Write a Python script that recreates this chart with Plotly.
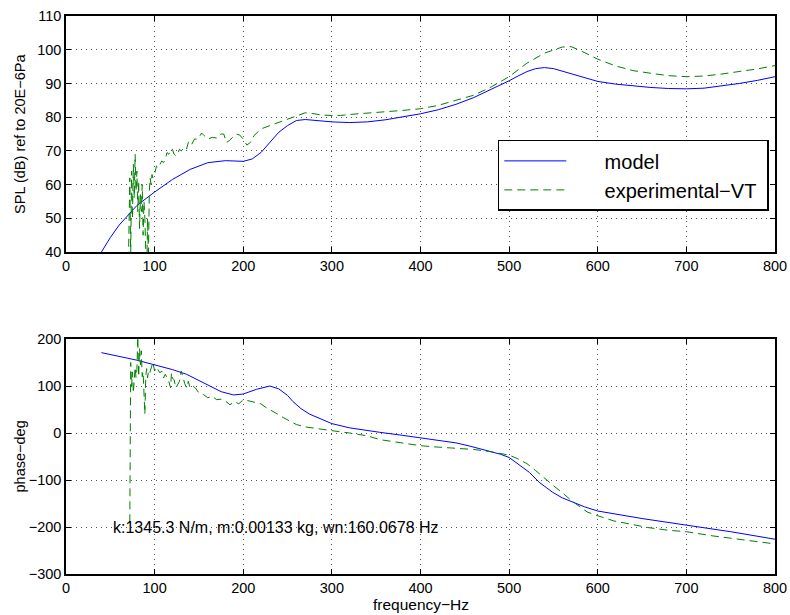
import plotly.graph_objects as go

# ---------------- data ----------------
# model SPL (top)
f_model_spl = [40, 50, 60, 70, 80, 90, 100, 120, 140, 160, 180, 200, 210, 220, 230, 240, 250, 260, 270, 280,
               300, 320, 340, 360, 380, 400, 420, 440, 460, 480, 500, 510, 520, 530, 540, 550, 560, 580, 600,
               620, 640, 660, 680, 700, 720, 740, 760, 780, 800]
spl_model = [40, 44.3, 48, 51, 53.8, 55.8, 57.8, 61.5, 64.5, 66.5, 67.1, 66.9, 67.6, 69.5, 72.5, 75.5, 77.5, 79, 79.3, 79,
             78.6, 78.4, 78.6, 79.2, 80, 81, 82.2, 83.8, 85.8, 88.2, 90.8, 92.2, 93.5, 94.4, 94.7, 94.4, 93.6, 92, 90.6,
             89.8, 89.2, 88.8, 88.5, 88.4, 88.6, 89.2, 90, 90.9, 92]

# experimental SPL (top)
f_exp_spl = [70, 72, 73, 74, 75, 76, 77, 78, 79, 80, 81, 82, 83, 84, 85, 86, 87, 88, 89, 90, 91, 92, 93, 94, 95, 96, 97, 98,
             100, 102, 104, 106, 108, 110, 112, 114, 116, 118, 120, 122, 124, 126, 128, 130, 132, 134, 136, 138, 140,
             142, 145, 148, 150, 153, 156, 160, 165, 170, 175, 178, 181, 184, 188, 192, 196, 200, 204, 208, 212, 216,
             220, 230, 240, 250, 260, 270, 280, 290, 300, 310, 320, 330, 340, 350, 360, 380, 400, 420, 440, 460, 480,
             500, 520, 540, 560, 570, 580, 600, 620, 640, 660, 680, 700, 720, 740, 760, 780, 800]
spl_exp = [30, 62, 38, 64, 50, 66, 56, 69, 58, 64, 52, 61, 47, 57, 52, 60, 45, 55, 50, 42, 30, 50, 38, 58, 62, 60, 63, 62,
           63, 65.5, 65, 66, 67, 66.5, 67.5, 69.5, 69, 70.5, 70.5, 69, 68.5, 69, 70.5, 70, 70.5, 71, 70.5, 72.5, 73,
           72, 73.5, 73.5, 74, 75.3, 74.5, 73.5, 74, 73.8, 75, 75, 72.5, 73, 74, 75, 74.7, 73.5, 71.7, 72.5, 74.5, 75.5,
           76.5, 77.5, 78.5, 79.5, 80.5, 81.3, 81, 80.6, 80.5, 80.5, 80.8, 81, 81, 81.3, 81.5, 82, 82.5, 83.5, 85, 86.5, 89,
           92, 96, 99, 100.8, 100.9, 99.8, 97.2, 95.2, 93.8, 93, 92.3, 92, 92.2, 92.8, 93.5, 94.3, 95.3]

# model phase (bottom)
f_model_ph = [40, 60, 80, 100, 120, 136, 150, 162, 175, 189, 200, 215, 230, 240, 250, 256, 265, 275, 287, 300, 320, 340,
              354, 380, 400, 420, 440, 456, 479, 490, 500, 511, 523, 534, 549, 560, 572, 585, 600, 620, 650, 700, 750, 800]
ph_model = [171, 163, 155, 145, 135, 125, 112, 101, 88, 81, 83, 93, 100, 94, 80, 67, 52, 40, 30, 20, 11, 5,
            1.5, -5, -10, -15, -21, -28, -39, -45, -52, -67, -84, -105, -126, -138, -147, -157, -166, -173, -182, -196, -210, -226]

# experimental phase (bottom)
f_exp_ph = [72, 73, 74, 75, 76, 77, 78, 79, 80, 81, 82, 83, 84, 85, 86, 87, 88, 89, 90, 91, 92, 93, 94, 96, 98,
            100, 102, 104, 106, 108, 110, 112, 114, 116, 118, 119, 120, 122, 124, 126, 128, 130, 132, 134, 136, 138, 140,
            143, 146, 150, 155, 160, 165, 170, 175, 180, 185, 190, 195, 200, 205, 210, 215, 220, 225, 230, 235, 240,
            245, 250, 255, 260, 270, 280, 290, 300, 320, 340, 354, 380, 400, 420, 440, 460, 480, 493, 500, 510, 520,
            530, 540, 550, 560, 571, 580, 588, 600, 618, 640, 656, 680, 700, 730, 768, 800]
ph_exp = [-190, 150, 100, 130, 85, 125, 140, 118, 135, 205, 120, 180, 145, 175, 120, 130, 80, 40, 120, 137, 117, 130, 125, 140, 150,
          132, 140, 134, 128, 132, 117, 125, 118, 110, 96, 128, 117, 113, 96, 105, 110, 132, 117, 105, 96, 110, 96,
          100, 96, 85, 82, 75, 78, 71, 72, 68, 60, 67, 62, 71, 69, 67, 65, 62, 55, 50, 44, 39,
          33, 28, 24, 18, 13, 10, 7, 5, 0, -6, -14, -21, -27, -30, -33, -35, -40, -44, -47, -55, -65,
          -80, -97, -112, -127, -145, -157, -168, -176, -187, -195, -201, -207, -210, -219, -229, -236]

x_ticks = [0, 100, 200, 300, 400, 500, 600, 700, 800]
spl_ticks = [40, 50, 60, 70, 80, 90, 100, 110]
ph_ticks = [-300, -200, -100, 0, 100, 200]

legend_names = ["model", "experimental\u2212VT"]
note_text = "k:1345.3 N/m, m:0.00133 kg, wn:160.0678 Hz"

# ---------------- figure ----------------
FONT = "Liberation Sans, Arial, Helvetica, sans-serif"
BLUE = "#0000ff"
GREEN = "#008000"
PAD = "\u00a0" * 6  # gap between legend sample line and legend text

fig = go.Figure()
fig.add_trace(go.Scatter(x=f_model_spl, y=spl_model, mode="lines", name=PAD + legend_names[0] + "\u00a0",
                         line=dict(color=BLUE, width=1), xaxis="x", yaxis="y"))
fig.add_trace(go.Scatter(x=f_exp_spl, y=spl_exp, mode="lines", name=PAD + legend_names[1] + "\u00a0",
                         line=dict(color=GREEN, width=1, dash="8px,5px"), xaxis="x", yaxis="y"))
fig.add_trace(go.Scatter(x=f_model_ph, y=ph_model, mode="lines", showlegend=False,
                         line=dict(color=BLUE, width=1), xaxis="x2", yaxis="y2"))
fig.add_trace(go.Scatter(x=f_exp_ph, y=ph_exp, mode="lines", showlegend=False,
                         line=dict(color=GREEN, width=1, dash="8px,5px"), xaxis="x2", yaxis="y2"))

axis_common = dict(showline=True, linecolor="black", linewidth=1.5, mirror="allticks",
                   ticks="inside", ticklen=5, tickwidth=1, tickcolor="black",
                   showgrid=True, gridcolor="#555555", gridwidth=1, griddash="1px,4px",
                   zeroline=False, automargin=False,
                   tickfont=dict(family=FONT, size=14.5, color="black"))

fig.update_layout(
    width=790, height=615, autosize=False,
    margin=dict(l=66, r=15, t=16, b=41, autoexpand=False),
    paper_bgcolor="white", plot_bgcolor="white",
    font=dict(family=FONT, color="black"),
    xaxis=dict(domain=[0, 1], anchor="y", range=[0, 800], tickvals=x_ticks, **axis_common),
    yaxis=dict(domain=[0.577, 1], anchor="x", range=[40, 110], tickvals=spl_ticks, **axis_common),
    xaxis2=dict(domain=[0, 1], anchor="y2", range=[0, 800], tickvals=x_ticks, **axis_common),
    yaxis2=dict(domain=[0, 0.4211], anchor="x2", range=[-300, 200], tickvals=ph_ticks, **axis_common),
    legend=dict(x=0.609, y=0.778, xanchor="left", yanchor="top",
                bgcolor="white", bordercolor="black", borderwidth=1.5,
                font=dict(family=FONT, size=20, color="black"),
                itemwidth=62, tracegroupgap=0),
    showlegend=True,
)

fig.add_annotation(x=50.4, y=-200, xref="x2", yref="y2", text=note_text, showarrow=False,
                   xanchor="left", yanchor="middle", font=dict(family=FONT, size=16, color="black"))
fig.add_annotation(x=0.5, y=-0.0555, xref="paper", yref="paper", text="frequency\u2212Hz", showarrow=False,
                   xanchor="center", yanchor="middle", font=dict(family=FONT, size=15.5, color="black"))
fig.add_annotation(x=-0.065, y=0.7885, xref="paper", yref="paper", text="SPL (dB) ref to 20E\u22126Pa",
                   showarrow=False, textangle=-90, xanchor="center", yanchor="middle",
                   font=dict(family=FONT, size=14.5, color="black"))
fig.add_annotation(x=-0.065, y=0.2105, xref="paper", yref="paper", text="phase\u2212deg",
                   showarrow=False, textangle=-90, xanchor="center", yanchor="middle",
                   font=dict(family=FONT, size=14.5, color="black"))

fig.write_html("out.html",
               config={"responsive": False, "displayModeBar": False},
               post_script="document.body.style.margin='0';document.body.style.padding='0';"
                           "document.body.style.overflow='hidden';")
